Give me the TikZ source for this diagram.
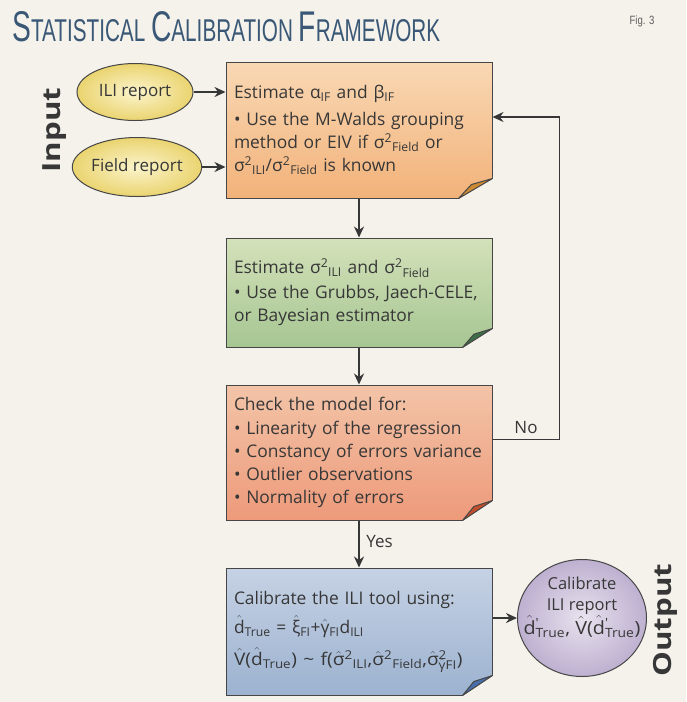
\documentclass[tikz,border=0pt]{standalone}
\usepackage{fontspec}
\setmainfont{Open Sans}
\newfontfamily\titlefont{Liberation Sans}
\usepackage{graphicx}
\usetikzlibrary{arrows.meta,calc,positioning,shapes.geometric}

\definecolor{paper}{RGB}{244,242,235}
\definecolor{ink}{RGB}{55,55,55}
\definecolor{boxline}{RGB}{70,70,70}
\definecolor{titleblue}{RGB}{58,88,118}
\definecolor{oranget}{RGB}{249,216,180}
\definecolor{orangeb}{RGB}{242,178,122}
\definecolor{greent}{RGB}{212,225,186}
\definecolor{greenb}{RGB}{166,198,146}
\definecolor{salmont}{RGB}{243,196,168}
\definecolor{salmonb}{RGB}{237,154,122}
\definecolor{bluet}{RGB}{198,210,228}
\definecolor{blueb}{RGB}{156,178,208}
\definecolor{flaporange}{RGB}{204,138,50}
\definecolor{flapgreen}{RGB}{62,110,72}
\definecolor{flapred}{RGB}{196,78,44}
\definecolor{flapblue}{RGB}{72,110,172}

\newcommand{\ttlbig}[1]{{\fontsize{30}{30}\selectfont #1}}
\newcommand{\ttlsmall}[1]{{\fontsize{22}{22}\selectfont #1}}
\newcommand{\sqsub}[2]{#1\textsuperscript{2}\textsubscript{#2}}
\newcommand{\hatx}[1]{\ensuremath{\hat{\mbox{#1}}}}
\newcommand{\dprime}{\hatx{d}\rlap{\textsuperscript{′}}\textsubscript{True}}

% cut the lower right corner of a box and fold it over
\newcommand{\foldcorner}[4]{%
  \fill[paper] ($(#1.south east)+(-#3-1.5,1.5)$) -- ($(#1.south east)+(1.5,1.5)$)
    -- ($(#1.south east)+(1.5,-#4-1.5)$) -- cycle;
  \draw[boxline, line width=1pt, fill=#2, line join=round]
    ($(#1.south east)+(0,-#4)$) -- ($(#1.south east)+(-#3,0)$)
    -- ($(#1.south east)+(-0.62*#3,-0.7*#4)$) -- cycle;
}

\tikzset{
  stepbox/.style={draw=boxline, line width=1pt, text=ink, align=left,
    text width=250pt, inner xsep=8pt, minimum width=266pt,
    font=\fontsize{17.4}{23}\selectfont},
  inoval/.style={ellipse, draw=boxline, line width=1pt, inner sep=0pt,
    inner color={rgb,255:red,251;green,244;blue,204},
    outer color={rgb,255:red,234;green,212;blue,112},
    text=ink, font=\fontsize{17}{20}\selectfont},
  flow/.style={-{Stealth[length=11pt,width=10pt]}, line width=2pt, draw=ink},
  loopback/.style={-{Stealth[length=11pt,width=10pt]}, line width=1.6pt, draw=ink},
  sidelabel/.style={text=ink, font=\bfseries\fontsize{25}{25}\selectfont, rotate=90}
}

\begin{document}
\begin{tikzpicture}[x=1pt, y=-1pt]
\fill[paper] (0,0) rectangle (686,702);
\useasboundingbox (0,0) rectangle (686,702);

\node[anchor=north west, inner sep=0pt, text=titleblue] (title) at (12,11)
  {\titlefont\resizebox{428pt}{30pt}{\ttlbig{S}\ttlsmall{TATISTICAL }\ttlbig{C}\ttlsmall{ALIBRATION }\ttlbig{F}\ttlsmall{RAMEWORK}}};
\node[text=ink!80, font=\titlefont\fontsize{12}{12}\selectfont] (fig) at (642,21) {\scalebox{0.8}[1]{Fig. 3}};

% input side
\node[sidelabel] (inlab) at (55,130) {\scalebox{1.25}[1]{Input}};
\node[inoval, minimum width=116pt, minimum height=57pt] (ili) at (135,92) {ILI report};
\node[inoval, minimum width=119pt, minimum height=59pt] (fld) at (137,167) {Field report};

% steps
\node[stepbox, minimum height=136pt, top color=oranget, bottom color=orangeb] (est) at (359,130)
  {Estimate α\textsubscript{IF} and β\textsubscript{IF}\\[4pt]
   • Use the M-Walds grouping\\
   method or EIV if \sqsub{σ}{Field} or\\
   \sqsub{σ}{ILI}/\sqsub{σ}{Field} is known};
\node[stepbox, minimum height=109pt, top color=greent, bottom color=greenb] (var) at (359,292.5)
  {Estimate \sqsub{σ}{ILI} and \sqsub{σ}{Field}\\[2pt]
   • Use the Grubbs, Jaech-CELE,\\
   or Bayesian estimator};
\node[stepbox, minimum height=135pt, top color=salmont, bottom color=salmonb] (check) at (359,452.5)
  {Check the model for:\\[1pt]
   • Linearity of the regression\\
   • Constancy of errors variance\\
   • Outlier observations\\
   • Normality of errors};
\node[stepbox, minimum height=127pt, top color=bluet, bottom color=blueb] (calib) at (359,631.5)
  {Calibrate the ILI tool using:\\[6pt]
   \hatx{d}\textsubscript{True} = \hatx{ξ}\textsubscript{FI}+\hatx{γ}\textsubscript{FI}d\textsubscript{ILI}\\[9pt]
   \scalebox{1.1}[1]{\hatx{V}(\hatx{d}\textsubscript{True}) \textasciitilde{} f(\hatx{σ}\textsuperscript{2}\textsubscript{ILI},\hatx{σ}\textsuperscript{2}\textsubscript{Field},\hatx{σ}\rlap{\textsuperscript{2}}\textsubscript{\hatx{γ}FI})}};

\foldcorner{est}{flaporange}{34}{20}
\foldcorner{var}{flapgreen}{30}{19}
\foldcorner{check}{flapred}{30}{20}
\foldcorner{calib}{flapblue}{30}{20}

% output side
\node[ellipse, draw=boxline, line width=1pt, minimum width=129pt, minimum height=117pt, inner sep=0pt,
  inner color={rgb,255:red,232;green,226;blue,238}, outer color={rgb,255:red,190;green,176;blue,208}] (out) at (582,618) {};
\node[text=ink, align=center, font=\fontsize{16.5}{21}\selectfont, inner sep=0pt] (outtxt) at (582,607)
  {Calibrate\\ILI report\\\scalebox{1.2}[1.1]{\dprime, \hatx{V}(\dprime)}};
\node[sidelabel] (outlab) at (665,620) {\scalebox{1.25}[1]{Output}};

% connectors
\draw[flow] (ili.east) -- (ili.east -| est.west);
\draw[flow] (fld.east) -- (fld.east -| est.west);
\draw[flow] (est) -- (var);
\draw[flow] (var) -- (check);
\draw[flow] (check) -- node[right=3pt, pos=0.45, text=ink, font=\fontsize{17}{20}\selectfont] {Yes} (calib);
\draw[flow] (calib.east |- out.west) -- (out.west);
\draw[loopback] ($(check.east)+(0,-13)$) -- node[above=2pt, text=ink, font=\fontsize{17}{20}\selectfont] {No} ++(67,0)
  |- ($(est.east)+(0,-13)$);
\end{tikzpicture}
\end{document}
